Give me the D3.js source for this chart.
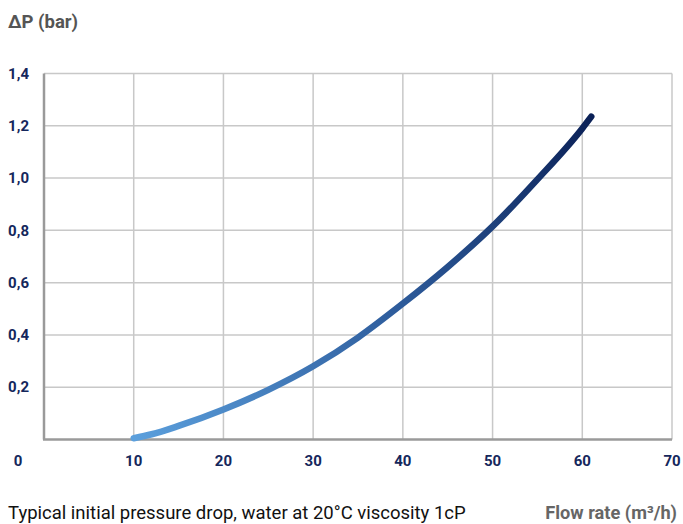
<!DOCTYPE html>
<html><head><meta charset="utf-8">
<script src="https://cdn.jsdelivr.net/npm/d3@7"></script>
<style>
html,body{margin:0;padding:0;background:#fff;}
svg{display:block;font-family:Roboto, "Noto Sans", sans-serif;}
</style></head>
<body><svg id="c" width="683" height="524"></svg>
<script>
const flowRate = [10, 12, 15, 20, 25, 30, 35, 40, 45, 50, 55, 60, 61];
const pressureDrop = [0.005, 0.02, 0.052, 0.115, 0.19, 0.28, 0.39, 0.52, 0.66, 0.815, 0.995, 1.19, 1.235];
const xTicks = [10, 20, 30, 40, 50, 60, 70];
const yTicks = [0.2, 0.4, 0.6, 0.8, 1.0, 1.2, 1.4];
const yTitle = "ΔP (bar)";
const xTitle = "Flow rate (m³/h)";
const caption = "Typical initial pressure drop, water at 20°C viscosity 1cP";

const svg = d3.select("#c");
const pL = 44, pR = 672, pT = 73.5, pB = 439.5;
const x = d3.scaleLinear().domain([0, 70]).range([pL, pR]);
const y = d3.scaleLinear().domain([0, 1.4]).range([pB, pT]);

const navy = "#15275c";

// grid
const g = svg.append("g");
g.selectAll("line.vx").data(xTicks).join("line")
  .attr("x1", d => x(d)).attr("x2", d => x(d)).attr("y1", pT).attr("y2", pB)
  .attr("stroke", "#c8c8c8").attr("stroke-width", 1.5);
g.selectAll("line.hy").data(yTicks).join("line")
  .attr("x1", pL).attr("x2", pR).attr("y1", d => y(d)).attr("y2", d => y(d))
  .attr("stroke", "#c8c8c8").attr("stroke-width", 1.5);
// axes lines
g.append("line").attr("x1", pL).attr("x2", pL).attr("y1", pT).attr("y2", pB)
  .attr("stroke", "#9a9a9a").attr("stroke-width", 2.5);
g.append("line").attr("x1", pL - 1).attr("x2", pR).attr("y1", pB).attr("y2", pB)
  .attr("stroke", "#9a9a9a").attr("stroke-width", 2.5);

// tick labels
svg.selectAll("text.yt").data(yTicks).join("text")
  .attr("x", 29).attr("y", d => y(d)).attr("dy", "0.35em")
  .attr("text-anchor", "end").attr("font-size", 15).attr("font-weight", 700)
  .attr("fill", navy).text(d => d.toFixed(1).replace(".", ","));
svg.selectAll("text.xt").data(xTicks).join("text")
  .attr("x", d => x(d)).attr("y", 461).attr("dy", "0.35em")
  .attr("text-anchor", "middle").attr("font-size", 15).attr("font-weight", 700)
  .attr("fill", navy).text(d => d);
svg.append("text").attr("x", 18).attr("y", 461).attr("dy", "0.35em")
  .attr("text-anchor", "middle").attr("font-size", 15).attr("font-weight", 700)
  .attr("fill", navy).text("0");

// titles
svg.append("text").attr("x", 8).attr("y", 28).attr("font-size", 18.5).attr("font-weight", 700)
  .attr("fill", "#555").text(yTitle);
svg.append("text").attr("x", 677).attr("y", 519).attr("text-anchor", "end")
  .attr("font-size", 18.2).attr("font-weight", 700).attr("fill", "#666").text(xTitle);
svg.append("text").attr("x", 8).attr("y", 519).attr("font-size", 18.5)
  .attr("fill", "#111").text(caption);

// gradient
const data = flowRate.map((f, i) => [f, pressureDrop[i]]);
const grad = svg.append("defs").append("linearGradient").attr("id", "lg")
  .attr("gradientUnits", "userSpaceOnUse")
  .attr("x1", x(flowRate[0])).attr("y1", y(pressureDrop[0]))
  .attr("x2", x(flowRate[flowRate.length - 1])).attr("y2", y(pressureDrop[pressureDrop.length - 1]));
grad.append("stop").attr("offset", "0%").attr("stop-color", "#5b9fdc");
grad.append("stop").attr("offset", "50%").attr("stop-color", "#2f5e9e");
grad.append("stop").attr("offset", "100%").attr("stop-color", "#0b2157");

const line = d3.line().x(d => x(d[0])).y(d => y(d[1])).curve(d3.curveMonotoneX);
svg.append("path").datum(data).attr("d", line).attr("fill", "none")
  .attr("stroke", "url(#lg)").attr("stroke-width", 6.5).attr("stroke-linecap", "round");
</script></body></html>
